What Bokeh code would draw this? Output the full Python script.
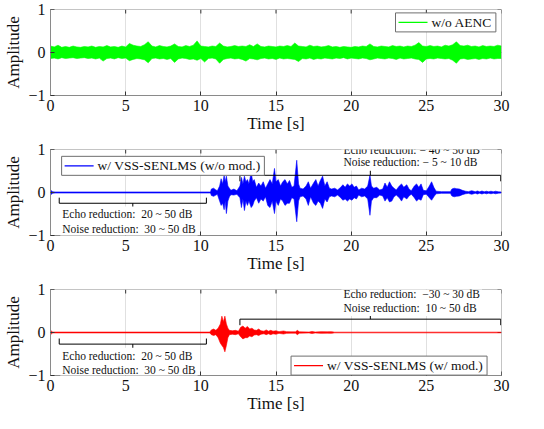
import numpy as np
from bokeh.plotting import figure
from bokeh.models import Label, FixedTicker, Range1d, Span, BoxAnnotation
from bokeh.layouts import column
from bokeh.embed import file_html
from bokeh.resources import INLINE

FONT = "Liberation Serif"

# ---------------- data ----------------
x_ticks = [0, 5, 10, 15, 20, 25, 30]
y_ticks = [-1, 0, 1]
x_label = "Time [s]"
y_label = "Amplitude"
legend_labels = ["w/o AENC", "w/ VSS-SENLMS (w/o mod.)", "w/ VSS-SENLMS (w/ mod.)"]
colors = ["#00ff00", "#0000ff", "#ff0000"]

# green: envelope of the unprocessed signal, sampled every 0.25 s
t_green = np.arange(0, 30.001, 0.25)
green_upper = [
    0.15, 0.13, 0.17, 0.12, 0.14, 0.12, 0.15, 0.13,
    0.12, 0.14, 0.13, 0.15, 0.12, 0.14, 0.13, 0.16,
    0.13, 0.14, 0.12, 0.15, 0.13, 0.21, 0.17, 0.15,
    0.14, 0.18, 0.25, 0.15, 0.13, 0.16, 0.14, 0.13,
    0.15, 0.20, 0.14, 0.13, 0.16, 0.14, 0.17, 0.27,
    0.15, 0.14, 0.13, 0.15, 0.14, 0.22, 0.15, 0.13,
    0.14, 0.16, 0.14, 0.15, 0.14, 0.18, 0.14, 0.20,
    0.14, 0.13, 0.15, 0.14, 0.13, 0.15, 0.14, 0.16,
    0.14, 0.22, 0.15, 0.14, 0.13, 0.17, 0.14, 0.15,
    0.13, 0.14, 0.16, 0.13, 0.14, 0.12, 0.14, 0.13,
    0.12, 0.14, 0.13, 0.15, 0.14, 0.20, 0.14, 0.13,
    0.15, 0.14, 0.13, 0.16, 0.14, 0.15, 0.13, 0.15,
    0.14, 0.17, 0.23, 0.15, 0.14, 0.16, 0.14, 0.15,
    0.13, 0.17, 0.15, 0.18, 0.25, 0.16, 0.15, 0.17,
    0.14, 0.15, 0.13, 0.16, 0.14, 0.15, 0.14, 0.17,
    0.15,
]
green_lower = [
    -0.14, -0.13, -0.15, -0.12, -0.14, -0.13, -0.12, -0.14,
    -0.13, -0.12, -0.14, -0.13, -0.15, -0.13, -0.20, -0.14,
    -0.13, -0.15, -0.12, -0.14, -0.13, -0.19, -0.16, -0.14,
    -0.15, -0.17, -0.24, -0.14, -0.13, -0.15, -0.14, -0.16,
    -0.14, -0.23, -0.15, -0.13, -0.14, -0.16, -0.15, -0.18,
    -0.14, -0.22, -0.14, -0.13, -0.15, -0.25, -0.16, -0.14,
    -0.13, -0.15, -0.14, -0.16, -0.20, -0.14, -0.15, -0.17,
    -0.14, -0.13, -0.15, -0.14, -0.16, -0.13, -0.15, -0.14,
    -0.15, -0.16, -0.21, -0.14, -0.15, -0.13, -0.16, -0.14,
    -0.15, -0.13, -0.14, -0.15, -0.13, -0.14, -0.12, -0.15,
    -0.13, -0.14, -0.15, -0.13, -0.14, -0.17, -0.15, -0.13,
    -0.14, -0.15, -0.13, -0.14, -0.16, -0.13, -0.15, -0.14,
    -0.13, -0.15, -0.16, -0.23, -0.15, -0.14, -0.15, -0.13,
    -0.14, -0.15, -0.14, -0.18, -0.25, -0.15, -0.14, -0.16,
    -0.15, -0.14, -0.16, -0.14, -0.15, -0.13, -0.15, -0.14,
    -0.14,
]

# blue: envelope of the output without modification
t_blue = [
    0.0, 0.05, 0.15, 0.3, 10.6, 10.65, 10.7, 10.85, 11.0, 11.1,
    11.25, 11.35, 11.45, 11.55, 11.62, 11.7, 11.8, 11.9, 12.0, 12.2,
    12.4, 12.6, 12.7, 12.8, 12.9, 13.0, 13.1, 13.2, 13.35, 13.45,
    13.55, 13.7, 13.85, 14.0, 14.15, 14.3, 14.45, 14.6, 14.75, 14.9,
    15.0, 15.15, 15.3, 15.45, 15.6, 15.75, 15.9, 16.05, 16.2, 16.38,
    16.5, 16.6, 16.8, 17.0, 17.15, 17.3, 17.5, 17.65, 17.8, 17.95,
    18.1, 18.25, 18.4, 18.55, 18.7, 18.9, 19.1, 19.3, 19.45, 19.6,
    19.75, 19.9, 20.05, 20.2, 20.35, 20.5, 20.7, 20.9, 21.1, 21.25,
    21.35, 21.5, 21.7, 21.9, 22.1, 22.25, 22.4, 22.55, 22.7, 22.85,
    23.0, 23.2, 23.35, 23.5, 23.7, 23.85, 24.0, 24.2, 24.35, 24.5,
    24.65, 24.8, 25.0, 25.2, 25.35, 25.5, 25.65, 26.0, 26.6, 26.7,
    26.85, 27.0, 27.2, 27.4, 27.6, 27.8, 28.0, 28.1, 28.25, 28.4,
    28.55, 28.7, 28.85, 29.0, 29.15, 29.3, 29.45, 29.6, 29.8, 30.0,
]
blue_upper = [
    0.07, 0.04, 0.015, 0.012, 0.012, 0.02, 0.08, 0.10, 0.06, 0.04,
    0.15, 0.32, 0.20, 0.40, 0.25, 0.38, 0.15, 0.10, 0.05, 0.08,
    0.04, 0.15, 0.35, 0.20, 0.38, 0.25, 0.30, 0.20, 0.47, 0.25,
    0.30, 0.12, 0.22, 0.15, 0.25, 0.10, 0.20, 0.30, 0.20, 0.56,
    0.25, 0.30, 0.15, 0.25, 0.30, 0.20, 0.28, 0.12, 0.15, 0.75,
    0.20, 0.10, 0.08, 0.15, 0.25, 0.10, 0.22, 0.30, 0.15, 0.28,
    0.38, 0.15, 0.25, 0.10, 0.08, 0.10, 0.06, 0.12, 0.18, 0.12,
    0.20, 0.15, 0.20, 0.12, 0.15, 0.06, 0.10, 0.08, 0.15, 0.40,
    0.15, 0.10, 0.12, 0.06, 0.08, 0.22, 0.12, 0.25, 0.15, 0.10,
    0.06, 0.15, 0.20, 0.12, 0.18, 0.08, 0.04, 0.15, 0.20, 0.12,
    0.20, 0.05, 0.04, 0.15, 0.25, 0.12, 0.03, 0.02, 0.02, 0.08,
    0.10, 0.09, 0.08, 0.05, 0.03, 0.02, 0.04, 0.035, 0.015, 0.035,
    0.015, 0.035, 0.015, 0.03, 0.015, 0.03, 0.015, 0.03, 0.015, 0.012,
]
blue_lower = [
    -0.07, -0.04, -0.015, -0.012, -0.012, -0.02, -0.07, -0.09, -0.06, -0.04,
    -0.20, -0.30, -0.25, -0.40, -0.20, -0.49, -0.20, -0.10, -0.05, -0.06,
    -0.04, -0.12, -0.35, -0.15, -0.42, -0.20, -0.30, -0.20, -0.35, -0.30,
    -0.20, -0.12, -0.25, -0.15, -0.20, -0.10, -0.30, -0.35, -0.20, -0.49,
    -0.20, -0.30, -0.15, -0.20, -0.30, -0.25, -0.25, -0.12, -0.15, -0.68,
    -0.20, -0.10, -0.08, -0.15, -0.30, -0.10, -0.25, -0.30, -0.20, -0.25,
    -0.37, -0.15, -0.22, -0.10, -0.08, -0.10, -0.06, -0.12, -0.18, -0.15,
    -0.20, -0.15, -0.18, -0.12, -0.15, -0.06, -0.10, -0.08, -0.15, -0.53,
    -0.20, -0.12, -0.12, -0.06, -0.08, -0.20, -0.12, -0.22, -0.20, -0.10,
    -0.06, -0.12, -0.20, -0.10, -0.15, -0.08, -0.04, -0.12, -0.20, -0.15,
    -0.18, -0.05, -0.04, -0.12, -0.18, -0.10, -0.03, -0.02, -0.02, -0.08,
    -0.10, -0.09, -0.08, -0.05, -0.03, -0.02, -0.04, -0.035, -0.015, -0.035,
    -0.015, -0.035, -0.015, -0.03, -0.015, -0.03, -0.015, -0.03, -0.015, -0.012,
]

# red: envelope of the output with modification
t_red = [
    0.0, 0.05, 0.15, 10.6, 10.7, 10.85, 11.0, 11.15, 11.3, 11.4,
    11.5, 11.6, 11.7, 11.8, 11.9, 12.1, 12.3, 12.5, 12.65, 12.8,
    12.95, 13.1, 13.25, 13.4, 13.55, 13.7, 13.85, 14.0, 14.2, 14.35,
    14.5, 14.65, 14.8, 15.0, 15.2, 15.5, 15.7, 16.0, 16.3, 16.42,
    16.55, 17.2, 17.4, 17.6, 18.0, 18.4, 18.7, 18.9, 30.0,
]
red_upper = [
    0.06, 0.03, 0.01, 0.01, 0.06, 0.08, 0.05, 0.10, 0.20, 0.38,
    0.25, 0.38, 0.20, 0.10, 0.05, 0.04, 0.05, 0.03, 0.12, 0.15,
    0.10, 0.14, 0.08, 0.10, 0.06, 0.05, 0.08, 0.04, 0.03, 0.06,
    0.03, 0.05, 0.03, 0.04, 0.02, 0.035, 0.02, 0.015, 0.015, 0.05,
    0.015, 0.01, 0.025, 0.01, 0.02, 0.015, 0.02, 0.008, 0.008,
]
red_lower = [
    -0.06, -0.03, -0.01, -0.01, -0.05, -0.07, -0.05, -0.12, -0.25, -0.30,
    -0.35, -0.45, -0.30, -0.12, -0.05, -0.04, -0.05, -0.03, -0.10, -0.15,
    -0.12, -0.12, -0.08, -0.10, -0.06, -0.05, -0.07, -0.04, -0.03, -0.05,
    -0.03, -0.05, -0.03, -0.04, -0.02, -0.035, -0.02, -0.015, -0.015, -0.05,
    -0.015, -0.01, -0.025, -0.01, -0.02, -0.015, -0.02, -0.008, -0.008,
]

# time intervals marked with brackets and their annotations
NB = "\u00a0"
early_interval = [0.58, 10.37]
late_interval = [12.6, 29.95]
early_texts = ["Echo reduction:" + NB + " 20 ~ 50 dB", "Noise reduction:" + NB + " 30 ~ 50 dB"]
late_texts_2 = ["Echo reduction: \u2212 40 ~ 50 dB", "Noise reduction: \u2212 5 ~ 10 dB"]
late_texts_3 = ["Echo reduction:" + NB + " \u221230 ~ 30 dB", "Noise reduction:" + NB + " 10 ~ 50 dB"]

FRAME_COLOR = "#8a8a8a"
TICK_COLOR = "#333333"
PX_X = 30 / 451.0   # data units per pixel (x)
PX_Y = 2 / 86.0     # data units per pixel (y)


# ---------------- helpers ----------------
def make_fig():
    p = figure(width=528, height=140, x_range=Range1d(0, 30), y_range=Range1d(-1, 1),
               output_backend="svg", toolbar_location=None,
               min_border_left=50, min_border_right=27, min_border_top=9, min_border_bottom=45)
    p.background_fill_color = "white"
    p.border_fill_color = "white"
    p.outline_line_color = None
    for ax in (p.xaxis[0], p.yaxis[0]):
        ax.axis_line_color = FRAME_COLOR
        ax.major_tick_in = 4
        ax.major_tick_out = 0
        ax.minor_tick_line_color = None
        ax.major_tick_line_color = TICK_COLOR
        ax.major_label_text_font = FONT
        ax.major_label_text_font_size = "16px"
        ax.major_label_text_color = "#111111"
        ax.axis_label_text_font = FONT
        ax.axis_label_text_font_size = "17px"
        ax.axis_label_text_font_style = "normal"
        ax.axis_label_text_color = "#111111"
    p.xaxis.ticker = FixedTicker(ticks=x_ticks)
    p.yaxis.ticker = FixedTicker(ticks=y_ticks)
    p.xaxis.axis_label = x_label
    p.yaxis.axis_label = y_label
    p.xaxis.major_label_standoff = 4
    p.xaxis.axis_label_standoff = 0
    p.yaxis.major_label_standoff = 5
    p.yaxis.axis_label_standoff = 2
    p.xgrid.ticker = FixedTicker(ticks=x_ticks)
    p.xgrid.grid_line_color = "#e0e0e0"
    p.ygrid.grid_line_color = None
    # top and right edges of the box (annotations, so that text boxes can cover them)
    p.add_layout(Span(location=1, dimension="width", line_color=FRAME_COLOR, line_width=1))
    p.add_layout(Span(location=30, dimension="height", line_color=FRAME_COLOR, line_width=1))
    # mirrored inward ticks on the top and right edges
    p.segment(x0=x_ticks, y0=[1] * len(x_ticks), x1=x_ticks, y1=[1 - 4 * PX_Y] * len(x_ticks),
              line_color=TICK_COLOR, line_width=1)
    p.segment(x0=[30] * len(y_ticks), y0=y_ticks, x1=[30 - 4 * PX_X] * len(y_ticks), y1=y_ticks,
              line_color=TICK_COLOR, line_width=1)
    return p


def add_signal(p, t, up, lo, color):
    p.varea(x=t, y1=lo, y2=up, fill_color=color)
    p.line(x=t, y=up, line_color=color, line_width=0.6)
    p.line(x=t, y=lo, line_color=color, line_width=0.6)


def add_legend(p, x_left, y_mid, color, label):
    # boxed label with room on the left for the line sample
    p.add_layout(Label(x=x_left, y=y_mid, text=label, text_font=FONT, text_font_size="13.5px",
                       text_baseline="middle", text_align="left", text_color="#111111",
                       background_fill_color="white", background_fill_alpha=1,
                       border_line_color="#6e6e6e", border_line_width=1,
                       padding=dict(left=36, right=4, top=2, bottom=2)))
    # line sample
    p.add_layout(BoxAnnotation(left=x_left + 3 * PX_X, right=x_left + 32 * PX_X,
                               bottom=y_mid - 0.6 * PX_Y, top=y_mid + 0.6 * PX_Y,
                               fill_color=color, fill_alpha=1, line_color=None))


def add_bracket(p, interval, y_bar, end_dy, mid_dy):
    a, b = interval
    m = (a + b) / 2
    p.segment(x0=[a, a, b, m], y0=[y_bar, y_bar, y_bar, y_bar],
              x1=[b, a, b, m], y1=[y_bar, y_bar + end_dy, y_bar + end_dy, y_bar + mid_dy],
              line_color="black", line_width=1)


def add_texts(p, x, ys, texts):
    for y, txt in zip(ys, texts):
        p.add_layout(Label(x=x, y=y, text=txt, text_font=FONT, text_font_size="11.5px",
                           text_baseline="middle", text_color="#111111",
                           background_fill_color="white", background_fill_alpha=1,
                           padding=2))


# ---------------- plot 1 ----------------
p1 = make_fig()
add_signal(p1, t_green, green_upper, green_lower, colors[0])
add_legend(p1, 22.95, 0.70, colors[0], legend_labels[0])

# ---------------- plot 2 ----------------
p2 = make_fig()
add_signal(p2, t_blue, blue_upper, blue_lower, colors[1])
add_bracket(p2, early_interval, -0.25, 0.13, -0.11)
add_bracket(p2, late_interval, 0.40, -0.14, 0.11)
add_texts(p2, 0.65, [-0.51, -0.84], early_texts)
add_texts(p2, 19.35, [1.0, 0.70], late_texts_2)
add_legend(p2, 0.74, 0.62, colors[1], legend_labels[1])

# ---------------- plot 3 ----------------
p3 = make_fig()
add_signal(p3, t_red, red_upper, red_lower, colors[2])
add_bracket(p3, early_interval, -0.27, 0.13, -0.11)
add_bracket(p3, late_interval, 0.31, -0.14, 0.11)
add_texts(p3, 0.65, [-0.54, -0.87], early_texts)
add_texts(p3, 19.35, [0.90, 0.57], late_texts_3)
add_legend(p3, 16.0, -0.77, colors[2], legend_labels[2])

layout = column(p1, p2, p3, spacing=0)
open("out.html", "w").write(file_html(layout, INLINE))
